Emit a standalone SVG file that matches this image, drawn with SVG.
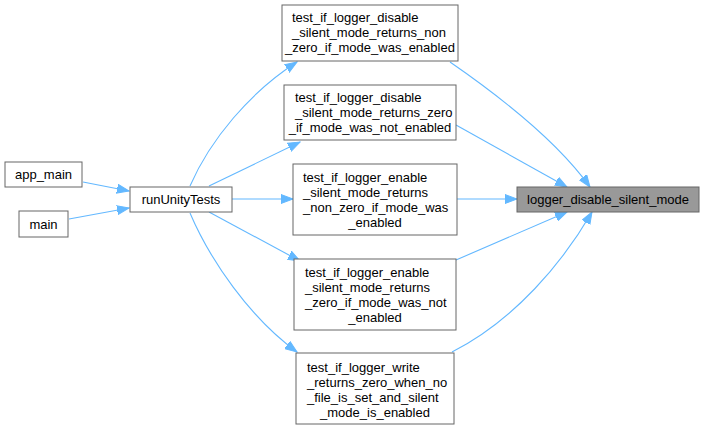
<svg xmlns="http://www.w3.org/2000/svg" width="704" height="430" viewBox="0 0 704 430">
<style>
.n{fill:#ffffff;stroke:#666666;stroke-width:1}
.h{fill:#999999;stroke:#666666;stroke-width:1}
text{font-family:"Liberation Sans",Arial,sans-serif;font-size:13px;fill:#000000}
.c{text-anchor:middle}
.e{fill:none;stroke:#63b8ff;stroke-width:1.1;marker-end:url(#a)}
</style>
<defs>
<marker id="a" markerUnits="userSpaceOnUse" markerWidth="13" markerHeight="10" viewBox="0 0 13 10" refX="12" refY="5" orient="auto">
<path d="M0,0.5 L12,5 L0,9.5 Z" fill="#63b8ff" stroke="#63b8ff"/>
</marker>
</defs>
<rect width="704" height="430" fill="#ffffff"/>
<g id="edges">
<path class="e" d="M83,182 L129,191"/>
<path class="e" d="M69,219 L129,208"/>
<path class="e" d="M232,199 L293,199"/>
<path class="e" d="M209,186 L300,142"/>
<path class="e" d="M209,212 L300,261"/>
<path class="e" d="M190,186 C210,140 250,92 297,62"/>
<path class="e" d="M190,213 C210,260 250,318 297,352"/>
<path class="e" d="M450,62 C505,100 560,145 590,187"/>
<path class="e" d="M456,125 L567,187"/>
<path class="e" d="M457,199 L517,199"/>
<path class="e" d="M456,260 L567,212"/>
<path class="e" d="M452,352 C515,320 563,262 592,212"/>
</g>
<g id="app_main"><rect class="n" x="5" y="162" width="77" height="25"/><text class="c" x="43.5" y="179">app_main</text></g>
<g id="main"><rect class="n" x="19" y="211" width="49" height="26"/><text class="c" x="43.5" y="229">main</text></g>
<g id="runUnityTests"><rect class="n" x="130" y="187" width="102" height="25"/><text class="c" x="181" y="204">runUnityTests</text></g>
<g id="t1"><rect class="n" x="282" y="5" width="176" height="56"/>
<text x="292" y="22">test_if_logger_disable</text><text x="292" y="37">_silent_mode_returns_non</text><text class="c" x="370" y="52">_zero_if_mode_was_enabled</text></g>
<g id="t2"><rect class="n" x="284" y="85" width="172" height="55"/>
<text x="295" y="102">test_if_logger_disable</text><text x="295" y="117">_silent_mode_returns_zero</text><text class="c" x="370" y="132">_if_mode_was_not_enabled</text></g>
<g id="t3"><rect class="n" x="293" y="164" width="164" height="71"/>
<text x="303" y="182">test_if_logger_enable</text><text x="303" y="197">_silent_mode_returns</text><text x="303" y="212">_non_zero_if_mode_was</text><text class="c" x="375" y="227">_enabled</text></g>
<g id="t4"><rect class="n" x="294" y="259" width="162" height="71"/>
<text x="305" y="277">test_if_logger_enable</text><text x="305" y="292">_silent_mode_returns</text><text x="305" y="307">_zero_if_mode_was_not</text><text class="c" x="375" y="322">_enabled</text></g>
<g id="t5"><rect class="n" x="296" y="353" width="158" height="71"/>
<text x="307" y="372">test_if_logger_write</text><text x="307" y="387">_returns_zero_when_no</text><text x="307" y="402">_file_is_set_and_silent</text><text class="c" x="375" y="417">_mode_is_enabled</text></g>
<g id="logger_disable_silent_mode"><rect class="h" x="517" y="187" width="182" height="25"/><text class="c" x="608" y="204">logger_disable_silent_mode</text></g>
</svg>
